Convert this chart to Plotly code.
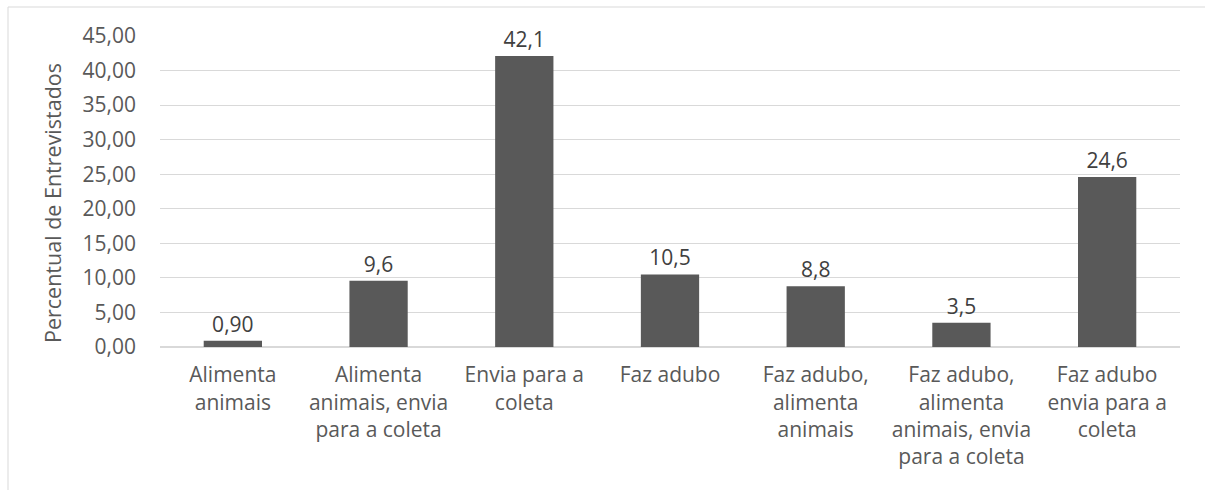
import plotly.graph_objects as go

categories = [
    "Alimenta<br>animais",
    "Alimenta<br>animais, envia<br>para a coleta",
    "Envia para a<br>coleta",
    "Faz adubo",
    "Faz adubo,<br>alimenta<br>animais",
    "Faz adubo,<br>alimenta<br>animais, envia<br>para a coleta",
    "Faz adubo<br>envia para a<br>coleta",
]
percentuais = [0.90, 9.6, 42.1, 10.5, 8.8, 3.5, 24.6]
casas_decimais = [2, 1, 1, 1, 1, 1, 1]

rotulos = [f"{v:.{d}f}".replace(".", ",") for v, d in zip(percentuais, casas_decimais)]

FONT = "Open Sans, Segoe UI, sans-serif"
FS = 21
W, H = 1205, 490
ML, MR, MT, MB = 160, 25, 36, 143
pw, ph = W - ML - MR, H - MT - MB

fig = go.Figure(
    go.Bar(
        x=categories,
        y=percentuais,
        text=rotulos,
        textposition="outside",
        textfont=dict(family=FONT, size=FS, color="#404040"),
        marker=dict(color="#595959", line=dict(width=0)),
        cliponaxis=False,
    )
)

# outer chart frame (left and top edges inside the page)
fig.add_shape(
    type="rect", xref="paper", yref="paper",
    x0=(8 - ML) / pw, x1=(W + 20 - ML) / pw,
    y0=-(MB + 20) / ph, y1=1 + (MT - 7) / ph,
    line=dict(color="#d9d9d9", width=1), layer="below",
)

# vertical axis title
fig.add_annotation(
    text="Percentual de Entrevistados",
    xref="paper", yref="paper",
    x=(52 - ML) / pw, y=(H - MB - 203) / ph,
    xanchor="center", yanchor="middle",
    textangle=-90, showarrow=False,
    font=dict(family=FONT, size=21.5, color="#595959"),
)

fig.update_layout(
    width=W, height=H,
    margin=dict(l=ML, r=MR, t=MT, b=MB),
    paper_bgcolor="white", plot_bgcolor="white",
    separators=",.",
    bargap=0.6,
    showlegend=False,
    font=dict(family=FONT, color="#595959", size=FS),
    xaxis=dict(
        showline=True, linecolor="#d9d9d9", linewidth=1,
        ticks="", ticklabelstandoff=9,
        tickfont=dict(size=FS, color="#595959"),
        fixedrange=True,
    ),
    yaxis=dict(
        range=[0, 45], dtick=5, tickformat=".2f",
        showgrid=True, gridcolor="#d9d9d9", gridwidth=1,
        zeroline=True, zerolinecolor="#d9d9d9",
        ticks="", ticklabelstandoff=23,
        tickfont=dict(size=FS, color="#595959"),
    ),
)

fig.write_html("out.html")
